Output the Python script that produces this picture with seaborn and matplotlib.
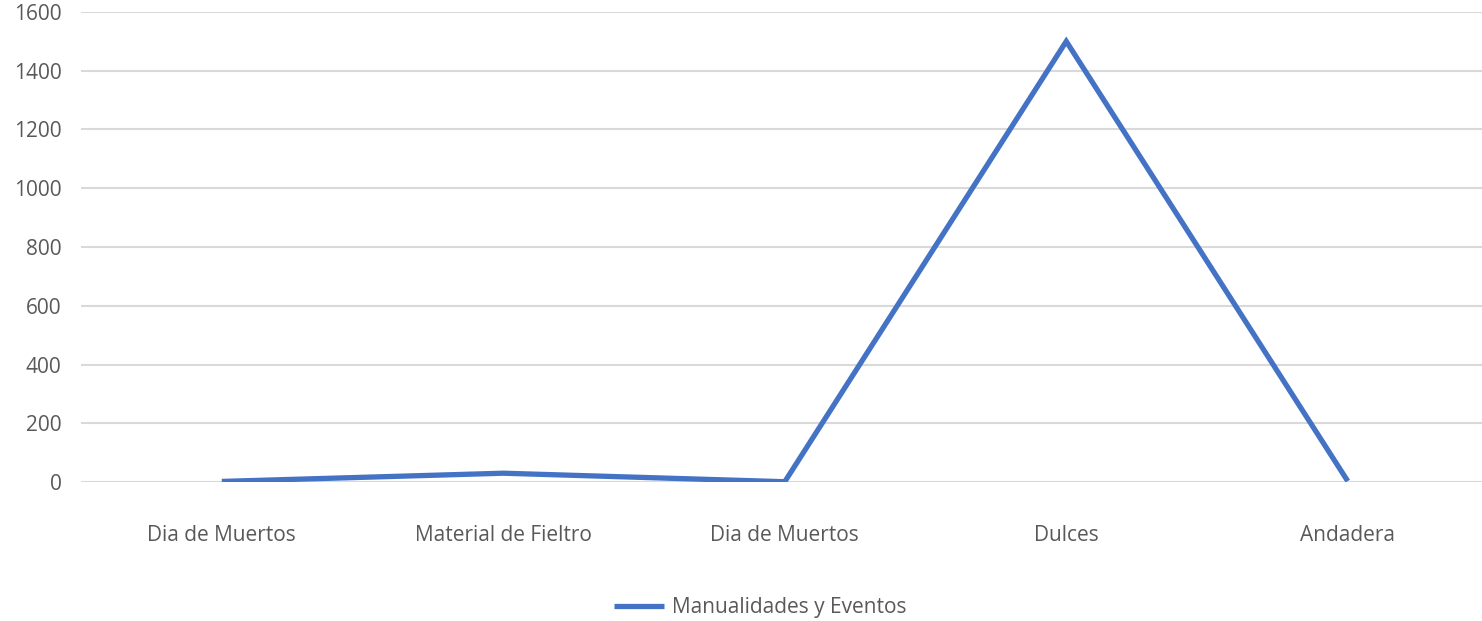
import matplotlib

matplotlib.use("Agg")
import matplotlib.pyplot as plt
import pandas as pd
import seaborn as sns
from matplotlib.lines import Line2D

categorias = ["Dia de Muertos", "Material de Fieltro", "Dia de Muertos ", "Dulces", "Andadera"]
etiquetas = ["Dia de Muertos", "Material de Fieltro", "Dia de Muertos", "Dulces", "Andadera"]
valores = [2, 30, 1, 1500, 3]
serie = "Manualidades y Eventos"
yticks = [0, 200, 400, 600, 800, 1000, 1200, 1400, 1600]

AZUL = "#4472C4"
GRIS = "#595959"
GRID = "#D9D9D9"

sns.set_theme(style="white")
plt.rcParams["font.family"] = ["Open Sans", "DejaVu Sans"]

df = pd.DataFrame({"x": range(len(valores)), "valor": valores, "serie": serie})

fig = plt.figure(figsize=(14.82, 6.21), dpi=100)
ax = fig.add_axes([0.0547, 0.2238, 0.9453, 0.7569])
sns.lineplot(data=df, x="x", y="valor", hue="serie", palette=[AZUL], ax=ax,
             linewidth=3.8, legend=False)
for ln in ax.get_lines():
    ln.set_solid_capstyle("butt")
    ln.set_solid_joinstyle("miter")

ax.set_xlim(-0.5, 4.477)
ax.set_ylim(0, 1600)
ax.set_yticks(yticks)
ax.set_yticklabels([str(v) for v in yticks], color=GRIS, fontsize=15)
ax.set_xticks(range(len(etiquetas)))
ax.set_xticklabels(etiquetas, color=GRIS, fontsize=15)
ax.tick_params(axis="x", length=0, pad=31)
ax.tick_params(axis="y", length=0, pad=14)
for v in yticks:
    ax.axhline(v, color=GRID, linewidth=1.5, zorder=0)
for s in ax.spines.values():
    s.set_visible(False)
ax.set_xlabel("")
ax.set_ylabel("")

h = Line2D([], [], color=AZUL, linewidth=3.8, solid_capstyle="butt")
fig.legend([h], [serie], loc="center", bbox_to_anchor=(0.513, 0.022), frameon=False,
           fontsize=15, labelcolor=GRIS, handlelength=2.4, handletextpad=0.35)

fig.savefig("out.png", dpi=100, facecolor="white")
